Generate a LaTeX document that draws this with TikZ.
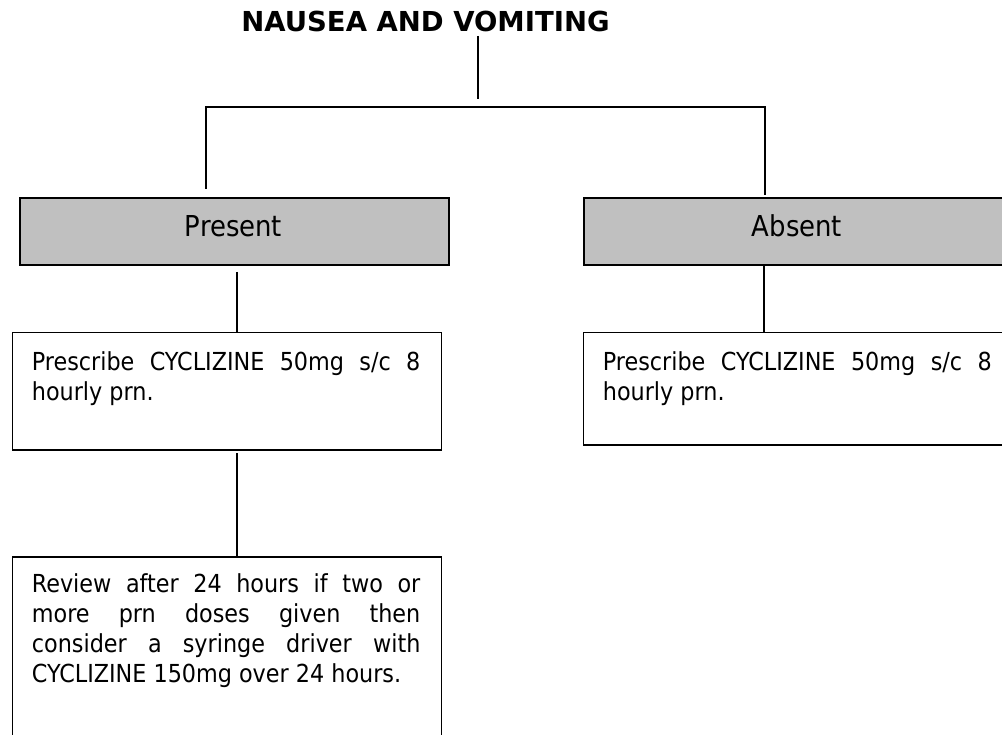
\documentclass[tikz,border=0pt]{standalone}
\usepackage{fontspec}
\setmainfont{DejaVu Sans Condensed}
\newfontfamily\titlefont{DejaVu Sans}
\definecolor{boxgray}{RGB}{192,192,192}
\newcommand\mybody[2]{\begin{minipage}[t]{#1}\fontsize{24.8}{30}\selectfont\hyphenpenalty=10000 #2\end{minipage}}
\begin{document}
\begin{tikzpicture}[x=1pt,y=-1pt,
  conn/.style={line width=1.3pt},
  graybox/.style={draw=black, line width=2.2pt, fill=boxgray, anchor=north west, inner sep=0pt},
  whitebox/.style={draw=black, line width=1.7pt, fill=white, anchor=north west, inner sep=0pt},
  lbl/.style={inner sep=0pt, anchor=base, font=\fontsize{28.8}{34}\selectfont},
  body/.style={inner sep=0pt, anchor=base west}
]
\useasboundingbox (0,0) rectangle (1002,735);
\clip (0,0) rectangle (1002,735);

% title
\node[inner sep=0pt, anchor=base, font=\titlefont\bfseries\fontsize{27.5}{32}\selectfont] (title) at (425.5,31.7) {NAUSEA AND VOMITING};

% boxes
\node[graybox, minimum width=429.5pt, minimum height=67.6pt] (present) at (18.5,196.7) {};
\node[graybox, minimum width=430pt, minimum height=67.6pt] (absent) at (582.7,196.7) {};
\node[whitebox, minimum width=429.2pt, minimum height=117.6pt] (pchild) at (11.5,331.7) {};
\node[whitebox, minimum width=430pt, minimum height=112.3pt] (achild) at (582.7,331.7) {};
\node[whitebox, minimum width=429.2pt, minimum height=220pt] (review) at (11.5,556) {};

% labels
\node[lbl] (presentlbl) at (233.5,237) {Present};
\node[lbl] (absentlbl) at (797,237) {Absent};
\node[body] (pchildtxt) at (31.7,371) {\mybody{388.5pt}{Prescribe CYCLIZINE 50mg s/c 8\linebreak hourly prn.}};
\node[body] (achildtxt) at (602.7,371) {\mybody{389pt}{Prescribe CYCLIZINE 50mg s/c 8\linebreak hourly prn.}};
\node[body] (reviewtxt) at (31.7,592.5) {\mybody{388.5pt}{Review after 24 hours if two or\linebreak more prn doses given then\linebreak consider a syringe driver with\linebreak CYCLIZINE 150mg over 24 hours.}};

% connector points
\coordinate (tA) at (478,36);
\coordinate (tB) at (478,99);
\coordinate (jL) at (206,107);
\coordinate (jM) at (433,107);
\coordinate (jR) at (765,107);
\coordinate (dL) at (206,189);
\coordinate (dR) at (765,195);
\coordinate (xP) at (237,0);
\coordinate (xA) at (764,0);

% connectors
\draw[conn] (tA) -- (tB);
\draw[line width=1.7pt] (dL) -- (jL) -- (jM);
\draw[conn] (jM) -- (jR) -- (dR);
\draw[conn] ([yshift=-5.5pt]present.south -| xP) -- (pchild.north -| xP);
\draw[conn] (absent.south -| xA) -- (achild.north -| xA);
\draw[conn] ([yshift=-2pt]pchild.south -| xP) -- (review.north -| xP);
\end{tikzpicture}
\end{document}
